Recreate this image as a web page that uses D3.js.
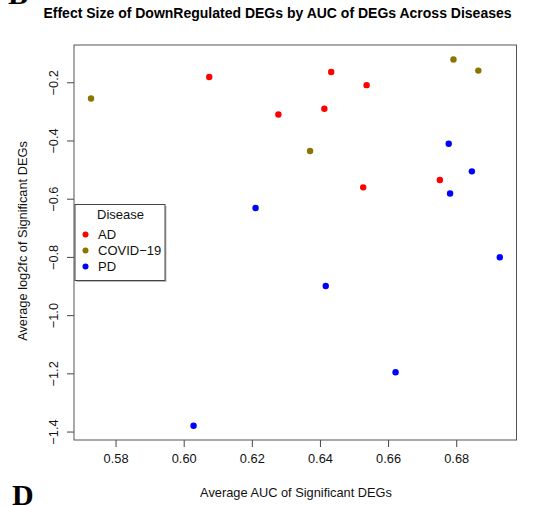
<!DOCTYPE html>
<html>
<head>
<meta charset="utf-8">
<script src="https://cdn.jsdelivr.net/npm/d3@7"></script>
<style>
  html, body { margin: 0; padding: 0; background: #fff; }
  svg { display: block; font-family: "Liberation Sans", Arial, Helvetica, sans-serif; }
</style>
</head>
<body>
<svg id="chart" width="548" height="506"></svg>
<script>
// Disease groups and their point colours
const diseases = ["AD", "COVID-19", "PD"];
const diseaseColors = ["#ff0000", "#8b7500", "#0000ff"];

// Average AUC (x) and average log2fc (y) of significant down-regulated DEGs
const adAUC      = [0.6075, 0.6278, 0.6433, 0.6537, 0.6413, 0.6752, 0.6527];
const adLog2fc   = [-0.182, -0.311, -0.165, -0.210, -0.291, -0.536, -0.561];
const covidAUC    = [0.5728, 0.6371, 0.6792, 0.6865];
const covidLog2fc = [-0.256, -0.436, -0.122, -0.160];
const pdAUC      = [0.6211, 0.6778, 0.6846, 0.6782, 0.6928, 0.6417, 0.6622, 0.6029];
const pdLog2fc   = [-0.632, -0.411, -0.506, -0.582, -0.801, -0.900, -1.196, -1.380];

// Axis ticks
const xTicks = [0.58, 0.60, 0.62, 0.64, 0.66, 0.68];
const yTicks = [-0.2, -0.4, -0.6, -0.8, -1.0, -1.2, -1.4];

const points = [
  ...adAUC.map((v, i) => ({ auc: v, fc: adLog2fc[i], disease: "AD" })),
  ...covidAUC.map((v, i) => ({ auc: v, fc: covidLog2fc[i], disease: "COVID-19" })),
  ...pdAUC.map((v, i) => ({ auc: v, fc: pdLog2fc[i], disease: "PD" }))
];

const svg = d3.select("#chart");
const plot = { left: 74, right: 516.5, top: 45, bottom: 440 };

const x = d3.scaleLinear().domain([0.5678, 0.6977]).range([plot.left, plot.right]);
const y = d3.scaleLinear().domain([-0.072, -1.429]).range([plot.top, plot.bottom]);
const color = d3.scaleOrdinal().domain(diseases).range(diseaseColors);

// Panel letters (partly outside the figure edges)
svg.append("text").attr("x", 8).attr("y", 4)
  .style("font-family", "'Liberation Serif', 'DejaVu Serif', serif")
  .style("font-weight", "bold").style("font-size", "30px").text("B");
svg.append("text").attr("x", 12).attr("y", 505)
  .style("font-family", "'Liberation Serif', 'DejaVu Serif', serif")
  .style("font-weight", "bold").style("font-size", "30px").text("D");

// Title
svg.append("text")
  .attr("x", 277.5).attr("y", 18)
  .attr("text-anchor", "middle")
  .style("font-weight", "bold").style("font-size", "14px")
  .text("Effect Size of DownRegulated DEGs by AUC of DEGs Across Diseases");

// X axis
const xAxis = svg.append("g").attr("transform", `translate(0,${plot.bottom})`)
  .call(d3.axisBottom(x).tickValues(xTicks).tickFormat(d3.format(".2f")).tickSize(7).tickPadding(7));
xAxis.select(".domain").remove();
xAxis.selectAll("line").attr("stroke", "#444");
xAxis.selectAll("text").style("font-size", "12.8px").attr("fill", "#111");

// Y axis (labels rotated, as in base graphics)
const yAxis = svg.append("g").attr("transform", `translate(${plot.left},0)`)
  .call(d3.axisLeft(y).tickValues(yTicks).tickFormat(d => d3.format(".1f")(d).replace("-", "\u2212")).tickSize(7));
yAxis.select(".domain").remove();
yAxis.selectAll("line").attr("stroke", "#444");
yAxis.selectAll("text")
  .style("font-size", "12.8px").attr("fill", "#111")
  .attr("x", null).attr("dy", null)
  .attr("text-anchor", "middle")
  .attr("transform", "translate(-20,0) rotate(-90)")
  .attr("y", 0).attr("dy", "0.35em");

// Plot frame
svg.append("rect")
  .attr("x", plot.left).attr("y", plot.top)
  .attr("width", plot.right - plot.left).attr("height", plot.bottom - plot.top)
  .attr("fill", "none").attr("stroke", "#555").attr("stroke-width", 1);

// Axis titles
svg.append("text")
  .attr("x", 296).attr("y", 497)
  .attr("text-anchor", "middle").style("font-size", "12.8px").attr("fill", "#111")
  .text("Average AUC of Significant DEGs");
svg.append("text")
  .attr("transform", "translate(27,241) rotate(-90)")
  .attr("text-anchor", "middle").style("font-size", "12.8px").attr("fill", "#111")
  .text("Average log2fc of Significant DEGs");

// Points
svg.append("g").selectAll("circle")
  .data(points).join("circle")
  .attr("cx", d => x(d.auc)).attr("cy", d => y(d.fc))
  .attr("r", 3.2)
  .attr("fill", d => color(d.disease));

// Legend
const lg = svg.append("g").attr("transform", "translate(75,204.5)");
lg.append("rect").attr("x", 1.5).attr("y", 1.5).attr("width", 90).attr("height", 76)
  .attr("fill", "#bbb");
lg.append("rect").attr("x", 0).attr("y", 0).attr("width", 90).attr("height", 76)
  .attr("fill", "#fff").attr("stroke", "#444").attr("stroke-width", 1);
lg.append("text").attr("x", 22).attr("y", 14).style("font-size", "13px").attr("fill", "#111").text("Disease");
diseases.forEach((d, i) => {
  const cy = 30 + i * 16;
  lg.append("circle").attr("cx", 10.5).attr("cy", cy).attr("r", 3).attr("fill", color(d));
  lg.append("text").attr("x", 23).attr("y", cy + 4.5)
    .style("font-size", "13px").attr("fill", "#111")
    .text(d === "COVID-19" ? "COVID\u221219" : d);
});
</script>
</body>
</html>
